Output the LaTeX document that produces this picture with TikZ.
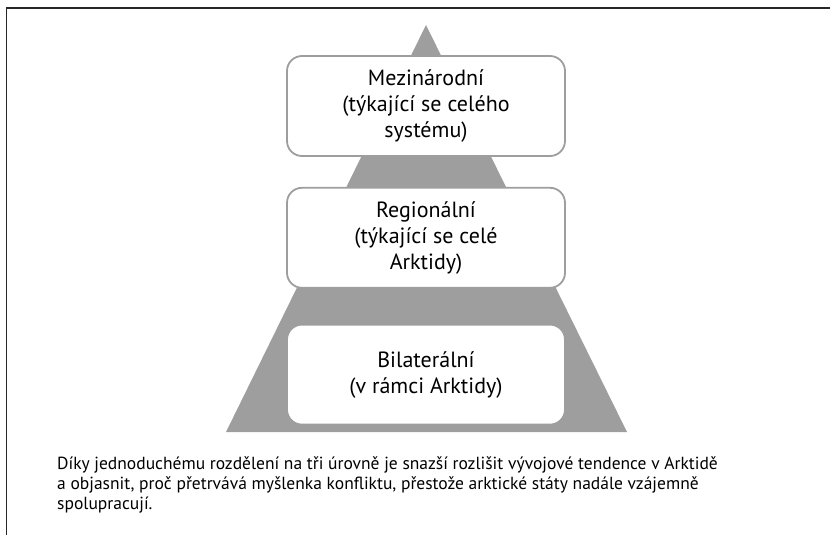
\documentclass[tikz,border=0pt]{standalone}
\usepackage{fontspec}
\setmainfont{PT Sans}
\usetikzlibrary{positioning}
\definecolor{pyrgray}{RGB}{158,158,158}
\begin{document}
\begin{tikzpicture}[x=1pt,y=-1pt,
	stufe/.style={rectangle,rounded corners=15pt,draw=pyrgray,line width=1.8pt,fill=white,
		minimum width=278pt,minimum height=100pt,align=center,inner sep=0pt,
		font=\fontsize{22}{26}\selectfont}]
	\useasboundingbox (0,0) rectangle (830,535);
	%Rahmen
	\draw[line width=1.5pt,black!85] (830,8) -- (6.5,8) -- (6.5,535);
	%Dreieck
	\fill[pyrgray] (426,25) -- (627,432) -- (226,432) -- cycle;
	%Stufen
	\node[stufe] (inter) at (426,106) {Mezinárodní\\(týkající se celého\\systému)};
	\node[stufe,below=30pt of inter] (region) {Regionální\\(týkající se celé\\Arktidy)};
	\node[stufe,below=35pt of region] (bilat) {Bilaterální\\(v rámci Arktidy)};
	%Text
	\node[anchor=north west,align=left,inner sep=0pt,font=\fontsize{17.5}{20}\selectfont] (popis) at (57,456)
		{Díky jednoduchému rozdělení na tři úrovně je snazší rozlišit vývojové tendence v Arktidě\\
		a objasnit, proč přetrvává myšlenka konfliktu, přestože arktické státy nadále vzájemně\\
		spolupracují.};
\end{tikzpicture}
\end{document}
